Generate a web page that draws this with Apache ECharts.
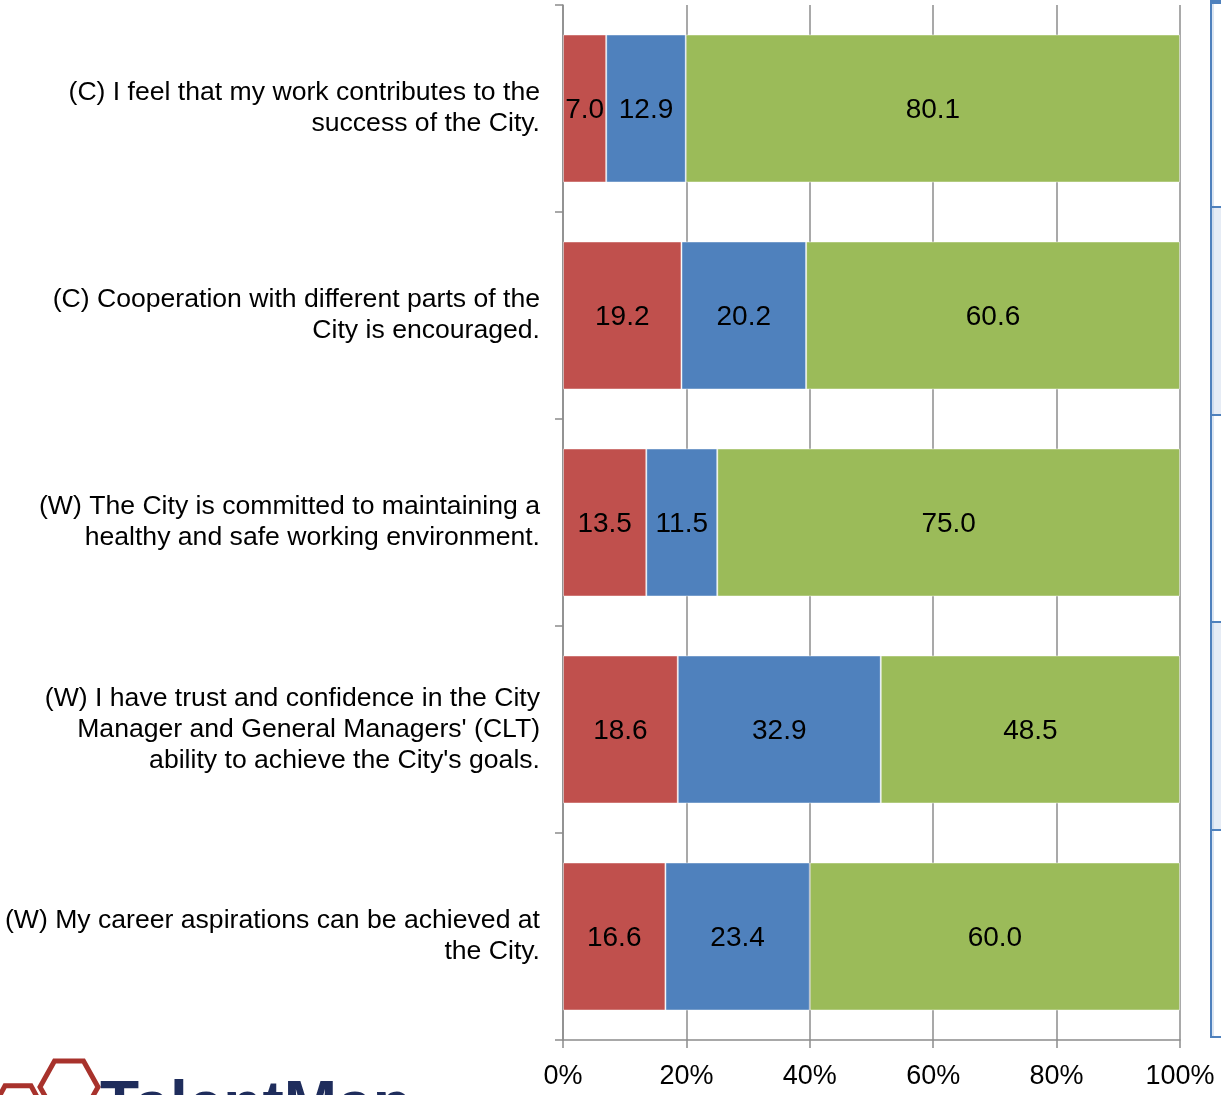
<!DOCTYPE html>
<html>
<head>
<meta charset="utf-8">
<script src="https://cdn.jsdelivr.net/npm/echarts@6/dist/echarts.min.js"></script>
<style>
html,body{margin:0;padding:0;background:#fff;}
#chart{width:1221px;height:1095px;}
</style>
</head>
<body>
<div id="chart"></div>
<script>
var categories = [
  "(C) I feel that my work contributes to the\nsuccess of the City.",
  "(C) Cooperation with different parts of the\nCity is encouraged.",
  "(W) The City is committed to maintaining a\nhealthy and safe working environment.",
  "(W) I have trust and confidence in the City\nManager and General Managers' (CLT)\nability to achieve the City's goals.",
  "(W) My career aspirations can be achieved at\nthe City."
];
var redValues = [7.0, 19.2, 13.5, 18.6, 16.6];
var blueValues = [12.9, 20.2, 11.5, 32.9, 23.4];
var greenValues = [80.1, 60.6, 75.0, 48.5, 60.0];
var xTicks = [0, 20, 40, 60, 80, 100];

var FONT = '"Liberation Sans", Arial, sans-serif';
var chart = echarts.init(document.getElementById('chart'), null, {renderer: 'canvas'});

function seriesOf(name, data, color) {
  return {
    name: name,
    type: 'bar',
    stack: 'total',
    data: data,
    barCategoryGap: '28.5%',
    itemStyle: {color: color, borderColor: 'rgba(255,255,255,0.45)', borderWidth: 1},
    label: {
      show: true,
      position: 'inside',
      offset: [0, 2],
      color: '#000',
      fontFamily: FONT,
      fontSize: 28,
      formatter: function (p) { return p.value.toFixed(1); }
    }
  };
}

function hex(cx, cy, rx, ry) {
  var pts = [];
  for (var i = 0; i < 6; i++) {
    var a = Math.PI / 3 * i;
    pts.push([cx + rx * Math.cos(a), cy + ry * Math.sin(a)]);
  }
  return pts;
}

chart.setOption({
  animation: false,
  backgroundColor: '#fff',
  grid: {left: 563, right: 41, top: 5, bottom: 55, containLabel: false, outerBoundsMode: 'none'},
  xAxis: {
    type: 'value',
    min: 0, max: 100, interval: 20,
    axisLine: {show: true, lineStyle: {color: '#8c8c8c', width: 1.5}},
    axisTick: {show: true, length: 8, lineStyle: {color: '#8c8c8c', width: 1.5}},
    splitLine: {show: true, lineStyle: {color: '#8c8c8c', width: 1.5}},
    axisLabel: {
      margin: 23, color: '#000', fontFamily: FONT, fontSize: 27,
      formatter: function (v) { return xTicks.indexOf(v) >= 0 ? v + '%' : ''; }
    }
  },
  yAxis: {
    type: 'category',
    inverse: true,
    data: categories,
    axisLine: {show: true, lineStyle: {color: '#8c8c8c', width: 1.5}},
    axisTick: {show: true, length: 8, alignWithLabel: false, lineStyle: {color: '#8c8c8c', width: 1.5}},
    axisLabel: {
      margin: 23, color: '#000', fontFamily: FONT, fontSize: 26.6, lineHeight: 31, align: 'right',
      padding: [4, 0, 0, 0]
    }
  },
  series: [
    seriesOf('Disagree', redValues, '#C0504D'),
    seriesOf('Neutral', blueValues, '#4F81BD'),
    seriesOf('Agree', greenValues, '#9BBB59')
  ],
  graphic: [
    {type: 'rect', shape: {x: 1212, y: 207, width: 12, height: 208}, style: {fill: '#E6ECF5'}, silent: true},
    {type: 'rect', shape: {x: 1212, y: 622, width: 12, height: 208}, style: {fill: '#E6ECF5'}, silent: true},
    {type: 'rect', shape: {x: 1210, y: 0, width: 12, height: 4}, style: {fill: '#4F81BD'}, silent: true},
    {type: 'line', shape: {x1: 1211, y1: 0, x2: 1211, y2: 1038}, style: {stroke: '#4F81BD', lineWidth: 2}, silent: true},
    {type: 'line', shape: {x1: 1213, y1: 4, x2: 1213, y2: 1036}, style: {stroke: '#B8CCE4', lineWidth: 1}, silent: true},
    {type: 'line', shape: {x1: 1210, y1: 207, x2: 1221, y2: 207}, style: {stroke: '#4F81BD', lineWidth: 2}, silent: true},
    {type: 'line', shape: {x1: 1210, y1: 415, x2: 1221, y2: 415}, style: {stroke: '#4F81BD', lineWidth: 2}, silent: true},
    {type: 'line', shape: {x1: 1210, y1: 622, x2: 1221, y2: 622}, style: {stroke: '#4F81BD', lineWidth: 2}, silent: true},
    {type: 'line', shape: {x1: 1210, y1: 830, x2: 1221, y2: 830}, style: {stroke: '#4F81BD', lineWidth: 2}, silent: true},
    {type: 'line', shape: {x1: 1210, y1: 1037, x2: 1221, y2: 1037}, style: {stroke: '#4F81BD', lineWidth: 2}, silent: true},
    {type: 'polygon', shape: {points: hex(69, 1087, 29, 30)}, style: {fill: 'none', stroke: '#A8322C', lineWidth: 5}, silent: true},
    {type: 'polygon', shape: {points: hex(18, 1110, 26, 28)}, style: {fill: 'none', stroke: '#A8322C', lineWidth: 5}, silent: true},
    {type: 'text', x: 100, y: 1076, style: {text: 'TalentMap', fontFamily: FONT, fontWeight: 'bold', fontSize: 64, fill: '#1F2D5C', verticalAlign: 'top', align: 'left'}, silent: true}
  ]
});
</script>
</body>
</html>
